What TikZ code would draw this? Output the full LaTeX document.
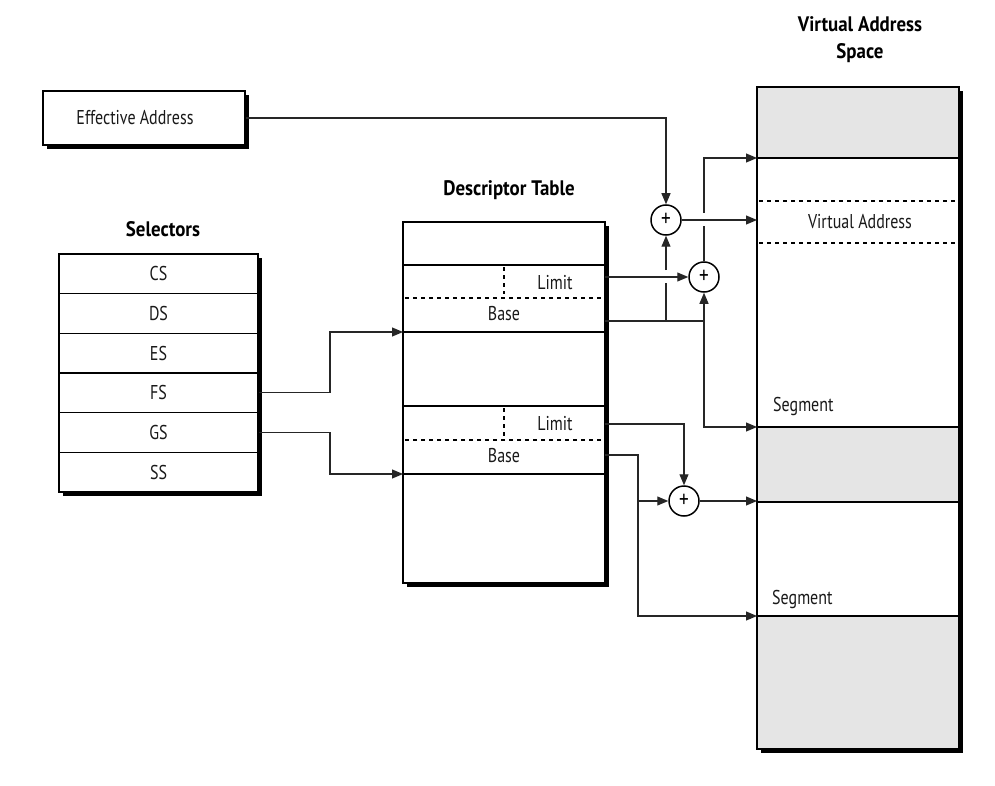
\documentclass[tikz,border=0pt]{standalone}
\usepackage{fontspec}
\setmainfont{PT Sans}[FakeStretch=0.8]
\newfontfamily\titlefont{PT Sans}[FakeStretch=0.9]
\usetikzlibrary{arrows.meta}
\definecolor{vasgray}{gray}{0.9}
\begin{document}
\begin{tikzpicture}[x=1pt,y=-1pt,
  lbl/.style={font=\fontsize{20}{22}\selectfont, inner sep=0pt, text=black!90},
  ttl/.style={font=\titlefont\bfseries\fontsize{21}{27}\selectfont, align=center, inner sep=0pt},
  conn/.style={line width=1.1pt, draw=black!85},
  arr/.style={conn, -{Triangle[length=11pt,width=9pt]}},
  shad/.style={preaction={fill=black, transform canvas={shift={(4pt,-4pt)}}}},
  frame/.style={draw, line width=1.5pt, fill=white, shad, inner sep=0pt},
  selrow/.style={draw, line width=1.5pt, minimum width=199pt, minimum height=39.67pt, inner sep=0pt, lbl},
  sum/.style={circle, draw, line width=1.5pt, minimum size=30pt, inner sep=0pt, fill=white, font=\fontsize{24}{24}\selectfont},
  rowline/.style={line width=1.5pt},
  dashrow/.style={line width=1.5pt, dash pattern=on 4pt off 4pt}
]
\useasboundingbox (0,0) rectangle (995,786);

% titles
\node[ttl] (tsel) at (163,229) {Selectors};
\node[ttl] (tdt) at (509,190) {Descriptor Table};
\node[ttl] (tvas) at (860,40) {Virtual Address\\Space};

% effective address
\node[frame, minimum width=202pt, minimum height=54pt, lbl] (ea) at (144,118) {Effective Address\hspace*{18pt}};

% selectors
\node[frame, minimum width=199pt, minimum height=238pt] (selbox) at (158.5,373) {};
\node[selrow] (cs) at (158.5,273.8) {CS};
\node[selrow] (ds) at (158.5,313.5) {DS};
\node[selrow] (es) at (158.5,353.2) {ES};
\node[selrow] (fs) at (158.5,392.8) {FS};
\node[selrow] (gs) at (158.5,432.5) {GS};
\node[selrow] (ss) at (158.5,472.2) {SS};

% descriptor table
\node[frame, minimum width=202pt, minimum height=361pt] (dt) at (504,402.5) {};
\draw[rowline] (403,265) -- (605,265);
\draw[rowline] (403,332) -- (605,332);
\draw[rowline] (403,406) -- (605,406);
\draw[rowline] (403,474) -- (605,474);
\draw[dashrow] (405,298) -- (605,298);
\draw[dashrow] (405,440) -- (605,440);
\draw[dashrow] (504,267) -- (504,294);
\draw[dashrow] (504,408) -- (504,436);
\node[lbl] (lim1) at (555,283) {Limit};
\node[lbl] (base1) at (504,314) {Base};
\node[lbl] (lim2) at (555,424) {Limit};
\node[lbl] (base2) at (504,456) {Base};

% virtual address space
\node[frame, minimum width=202pt, minimum height=662pt] (vas) at (858,418) {};
\fill[vasgray] (757,87) rectangle (959,158);
\fill[vasgray] (757,427) rectangle (959,502);
\fill[vasgray] (757,616) rectangle (959,749);
\draw[line width=1.5pt] (757,87) rectangle (959,749);
\draw[rowline] (757,158) -- (959,158);
\draw[rowline] (757,427) -- (959,427);
\draw[rowline] (757,502) -- (959,502);
\draw[rowline] (757,616) -- (959,616);
\draw[dashrow] (759,201) -- (957,201);
\draw[dashrow] (759,243) -- (957,243);
\node[lbl] (va) at (860,222) {Virtual Address};
\node[lbl, anchor=west] (seg1) at (773,406) {Segment};
\node[lbl, anchor=west] (seg2) at (772,599) {Segment};

% adders
\node[sum] (c1) at (666,220) {+};
\node[sum] (c2) at (704,277) {+};
\node[sum] (c3) at (684,501) {+};

% ports
\coordinate (plim1) at (605,277);
\coordinate (pbase1) at (605,321);
\coordinate (plim2) at (605,424);
\coordinate (pbase2) at (605,455);
\coordinate (pdt1) at (403,332);
\coordinate (pdt2) at (403,474);
\coordinate (v1) at (757,158);
\coordinate (v2) at (757,220);
\coordinate (v3) at (757,427);
\coordinate (v4) at (757,501);
\coordinate (v5) at (757,616);
\coordinate (j1) at (666,321);
\coordinate (j2) at (704,321);
\coordinate (j3) at (638,501);

% connectors
\draw[arr] (ea.east) -| (c1.north);
\draw[conn] (pbase1) -- (j2);
\draw[conn] (j1) -- (666,283);
\draw[arr] (666,270) -- (c1.south);
\draw[arr] (j2) -- (c2.south);
\draw[arr] (j2) |- (v3);
\draw[arr] (plim1) -- (c2.west);
\draw[conn] (c2.north) -- (704,226);
\draw[arr] (704,213) |- (v1);
\draw[arr] (c1.east) -- (v2);
\draw[arr] (plim2) -| (c3.north);
\draw[conn] (pbase2) -| (j3);
\draw[arr] (j3) -- (c3.west);
\draw[arr] (j3) |- (v5);
\draw[arr] (c3.east) -- (v4);
\draw[arr] (fs.east) -- (330,392.8) |- (pdt1);
\draw[arr] (gs.east) -- (330,432.5) |- (pdt2);
\end{tikzpicture}
\end{document}
